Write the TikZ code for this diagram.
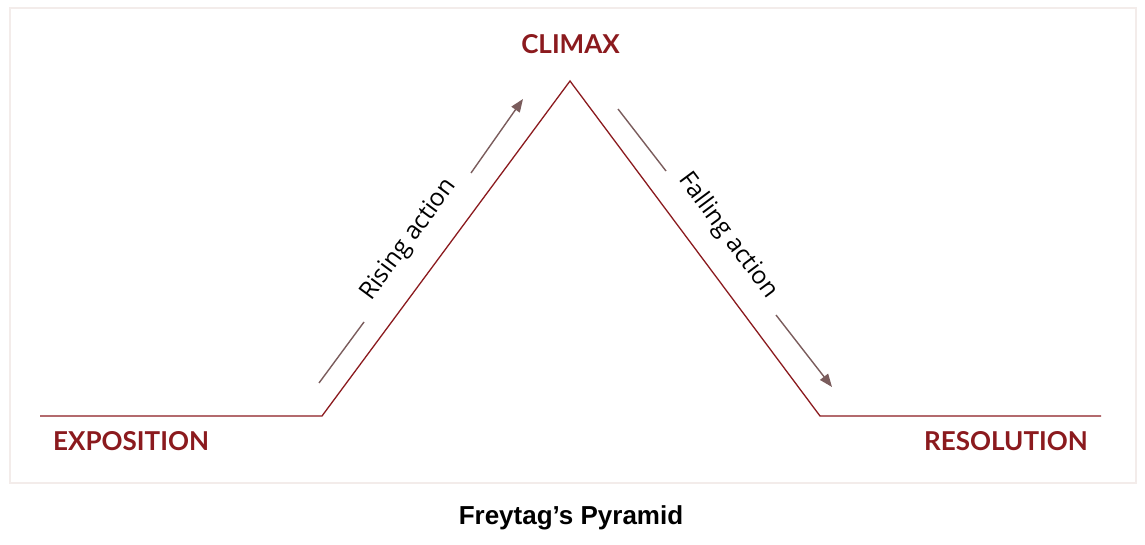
\documentclass[tikz,border=0pt]{standalone}
\usepackage{fontspec}
\setmainfont{Open Sans}
\newfontfamily\latob{Lato}[UprightFont=* Bold]
\newfontfamily\arialb{Liberation Sans}[UprightFont=* Bold]
\usetikzlibrary{arrows.meta}
\definecolor{pyrred}{HTML}{8B1A1E}
\definecolor{arrowbrown}{HTML}{7A5C5C}
\definecolor{frame}{HTML}{F3ECEA}
\tikzset{
  stagelabel/.style={text=pyrred, font=\latob\fontsize{26}{30}\selectfont, inner sep=0pt},
  actionlabel/.style={text=black, font=\fontsize{24.5}{28}\selectfont, inner sep=0pt},
  pyrline/.style={draw=pyrred, line width=1.3pt, line join=miter},
  actarrow/.style={draw=arrowbrown, line width=1.4pt, -{Triangle[length=13pt,width=10pt]}},
  actline/.style={draw=arrowbrown, line width=1.4pt},
}
\begin{document}
\begin{tikzpicture}[x=1pt,y=-1pt]
\useasboundingbox (0,0) rectangle (1145,545);
\draw[frame, line width=1.2pt] (10,8) rectangle (1136,483);
% pyramid points
\coordinate (a) at (40,416);
\coordinate (b) at (322,416);
\coordinate (c) at (570,81);
\coordinate (d) at (820,416);
\coordinate (e) at (1101,416);
\draw[pyrline] (a) -- (b) -- (c) -- (d) -- (e);
% rising arrow
\coordinate (r1) at (319,383);
\coordinate (r2) at (364,322);
\coordinate (r3) at (471,173);
\coordinate (r4) at (523,99);
\draw[actline] (r1) -- (r2);
\draw[actarrow] (r3) -- (r4);
% falling arrow
\coordinate (f1) at (618,109);
\coordinate (f2) at (666,171);
\coordinate (f3) at (776,315);
\coordinate (f4) at (832,387);
\draw[actline] (f1) -- (f2);
\draw[actarrow] (f3) -- (f4);
% labels
\node[actionlabel, rotate=53.5] (rising) at (409,240) {Rising action};
\node[actionlabel, rotate=-53.3] (falling) at (728,236) {Falling action};
\node[stagelabel, anchor=base west] (expo) at (53,450) {EXPOSITION};
\node[stagelabel, anchor=base east] (reso) at (1088,450) {RESOLUTION};
\node[stagelabel, anchor=base] (climax) at (570.5,54) {CLIMAX};
\node[anchor=base, inner sep=0pt, font=\arialb\fontsize{26}{30}\selectfont] (title) at (571,524) {Freytag’s Pyramid};
\end{tikzpicture}
\end{document}
